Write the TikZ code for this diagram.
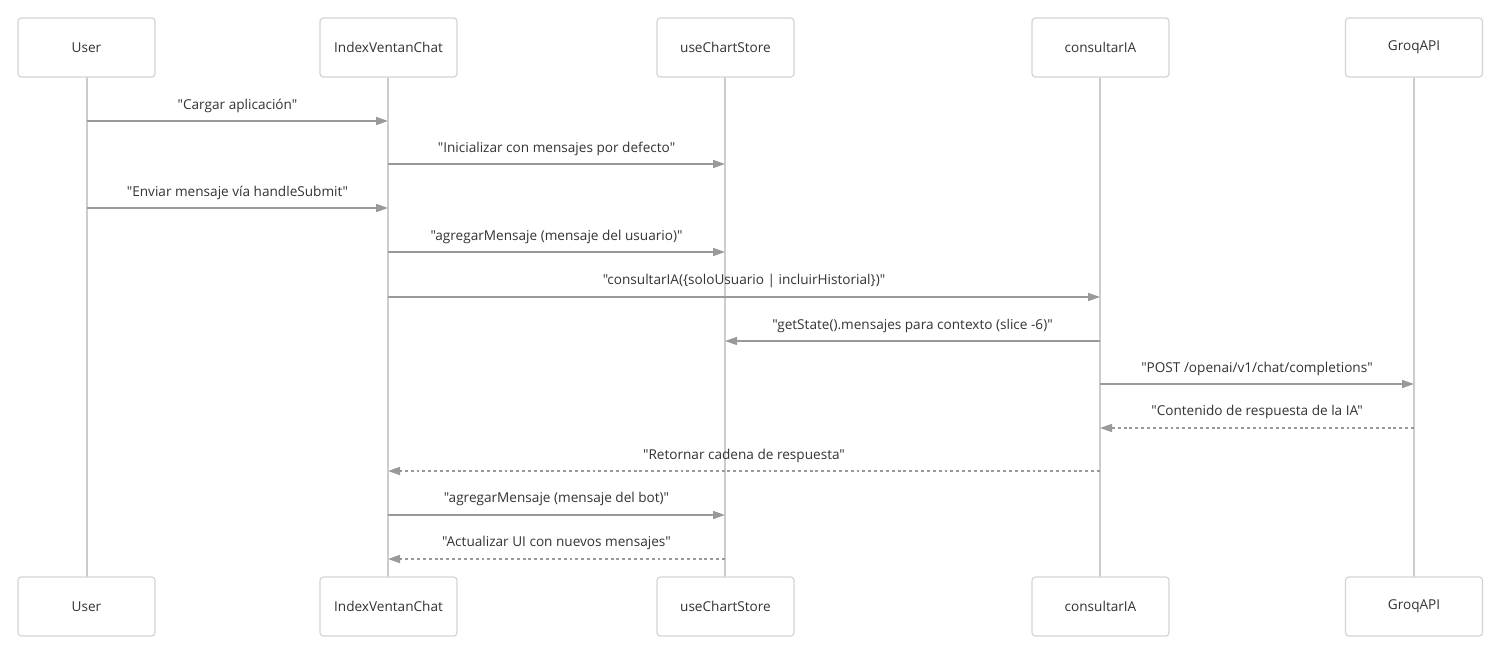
\documentclass[tikz,border=0pt]{standalone}
\usepackage{fontspec}
\setmainfont{Open Sans}[Ligatures=TeXOff]
\usetikzlibrary{arrows.meta}
\definecolor{boxline}{HTML}{D4D4D4}
\definecolor{life}{HTML}{CCCCCC}
\definecolor{msg}{HTML}{999999}
\definecolor{txt}{HTML}{333333}
\begin{document}
\begin{tikzpicture}[x=0.75pt,y=-0.75pt,
  actor/.style={draw=boxline,fill=white,line width=0.9pt,rounded corners=2.5pt,minimum width=137*0.75pt,minimum height=59*0.75pt,font=\fontsize{10.2pt}{12pt}\selectfont,text=txt,inner sep=0pt},
  lifeline/.style={draw=life,line width=1.4pt},
  call/.style={draw=msg,line width=1.1pt,-{Triangle[length=9pt,width=6pt]}},
  reply/.style={call,dash pattern=on 2.2pt off 2.2pt},
  lbl/.style={font=\fontsize{10.2pt}{12pt}\selectfont,text=txt,inner sep=0pt,anchor=base}]
\useasboundingbox (0,0) rectangle (1501,657);
\fill[white] (0,0) rectangle (1501,657);
% lifelines
\foreach \n/\x in {u/87,i/388,s/725,c/1100,g/1414}{
  \coordinate (\n t) at (\x,77);
  \coordinate (\n b) at (\x,577);
}
\draw[lifeline] (ut) -- (ub);
\draw[lifeline] (it) -- (ib);
\draw[lifeline] (st) -- (sb);
\draw[lifeline] (ct) -- (cb);
\draw[lifeline] (gt) -- (gb);
% actors
\node[actor] (U1) at (86.5,47.5) {User};
\node[actor] (I1) at (388.5,47.5) {IndexVentanChat};
\node[actor] (S1) at (725.5,47.5) {useChartStore};
\node[actor] (C1) at (1100.5,47.5) {consultarIA};
\node[actor] (G1) at (1414,47.5) {GroqAPI};
\node[actor] (U2) at (86.5,606.5) {User};
\node[actor] (I2) at (388.5,606.5) {IndexVentanChat};
\node[actor] (S2) at (725.5,606.5) {useChartStore};
\node[actor] (C2) at (1100.5,606.5) {consultarIA};
\node[actor] (G2) at (1414,606.5) {GroqAPI};
% message anchor coordinates
\foreach \y [count=\k] in {121,164,208,252,297,341,384,428,471,515,559}{
  \coordinate (u\k) at (87,\y);
  \coordinate (i\k) at (388,\y);
  \coordinate (s\k) at (725,\y);
  \coordinate (c\k) at (1100,\y);
  \coordinate (g\k) at (1414,\y);
}
\draw[call] (u1) -- (i1);
\node[lbl] at (237.5,109) {"Cargar aplicación"};
\draw[call] (i2) -- (s2);
\node[lbl] at (556.5,152) {"Inicializar con mensajes por defecto"};
\draw[call] (u3) -- (i3);
\node[lbl] at (237.5,196) {"Enviar mensaje vía handleSubmit"};
\draw[call] (i4) -- (s4);
\node[lbl] at (556.5,240) {"agregarMensaje (mensaje del usuario)"};
\draw[call] (i5) -- (c5);
\node[lbl] at (744,284) {"consultarIA(\{soloUsuario | incluirHistorial\})"};
\draw[call] (c6) -- (s6);
\node[lbl] at (912.5,329) {"getState().mensajes para contexto (slice -6)"};
\draw[call] (c7) -- (g7);
\node[lbl] at (1257,372) {"POST /openai/v1/chat/completions"};
\draw[reply] (g8) -- (c8);
\node[lbl] at (1257,415) {"Contenido de respuesta de la IA"};
\draw[reply] (c9) -- (i9);
\node[lbl] at (744,459) {"Retornar cadena de respuesta"};
\draw[call] (i10) -- (s10);
\node[lbl] at (556.5,502) {"agregarMensaje (mensaje del bot)"};
\draw[reply] (s11) -- (i11);
\node[lbl] at (556.5,546) {"Actualizar UI con nuevos mensajes"};
\end{tikzpicture}
\end{document}
